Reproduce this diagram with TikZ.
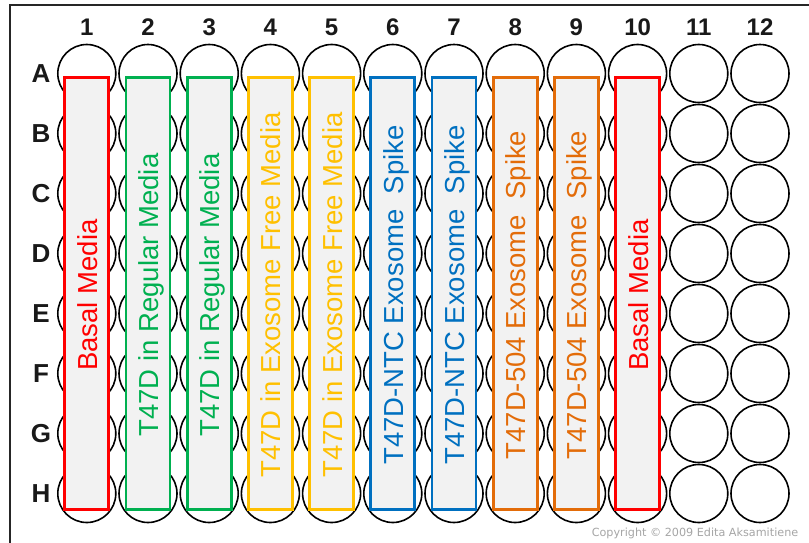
\documentclass[tikz,border=0pt]{standalone}
\usepackage{fontspec}
\setmainfont{Liberation Sans}
\newfontfamily\copyfont{DejaVu Sans}
\definecolor{cred}{HTML}{FF0000}
\definecolor{cgreen}{HTML}{00B050}
\definecolor{cgold}{HTML}{FFC000}
\definecolor{cblue}{HTML}{0070C0}
\definecolor{corange}{HTML}{E36C09}
\definecolor{cfill}{HTML}{F2F2F2}
\definecolor{cgray}{HTML}{A6A6A6}
\tikzset{
  well/.style={circle, draw=black, line width=1.6pt, minimum size=58pt, inner sep=0pt},
  strip/.style={draw=#1, fill=cfill, line width=2.8pt, minimum width=44pt, minimum height=432pt, inner sep=0pt},
  striplab/.style={text=#1, rotate=90, anchor=base, inner sep=0pt, font=\fontsize{27.5}{30}\selectfont},
  rowlab/.style={font=\fontsize{26}{28}\selectfont\bfseries, inner sep=0pt, text=black!90},
  collab/.style={font=\fontsize{24}{26}\selectfont\bfseries, inner sep=0pt, text=black!90},
}
\begin{document}
\begin{tikzpicture}[x=1pt,y=-1pt]
\useasboundingbox (0,0) rectangle (809,542);
\clip (0,0) rectangle (809,542);
\fill[white] (0,0) rectangle (809,542);
\draw[line width=1.6pt, black!85] (10,5) rectangle (840,580);
% wells
\foreach \c in {1,...,12}{
  \foreach \r [count=\ri] in {A,B,C,D,E,F,G,H}{
    \node[well] (w\r\c) at ({86.8+61.2*(\c-1)}, {73.5+60*(\ri-1)}) {};
  }
  \node[collab] (col\c) at ({86.8+61.2*(\c-1)}, 27) {\c};
}
\foreach \r [count=\ri] in {A,B,C,D,E,F,G,H}{
  \node[rowlab] (row\r) at (41, {73.5+60*(\ri-1)}) {\r};
}
% strips
\foreach \c/\col/\txt in {
  1/cred/{Basal Media},
  2/cgreen/{T47D in Regular Media},
  3/cgreen/{T47D in Regular Media},
  4/cgold/{T47D in Exosome Free Media},
  5/cgold/{T47D in Exosome Free Media},
  6/cblue/{T47D-NTC Exosome\ \ Spike},
  7/cblue/{T47D-NTC Exosome\ \ Spike},
  8/corange/{T47D-504 Exosome\ \ Spike},
  9/corange/{T47D-504 Exosome\ \ Spike},
  10/cred/{Basal Media}}{
  \node[strip=\col] (s\c) at ({86.8+61.2*(\c-1)}, 293.5) {};
  \node[striplab=\col] (t\c) at ({86.8+61.2*(\c-1)+10.5}, 295) {\txt};
}
\node[text=cgray, font=\copyfont\fontsize{11.2}{13}\selectfont, inner sep=0pt] (copy) at (695,533) {Copyright © 2009 Edita Aksamitiene};
\end{tikzpicture}
\end{document}
